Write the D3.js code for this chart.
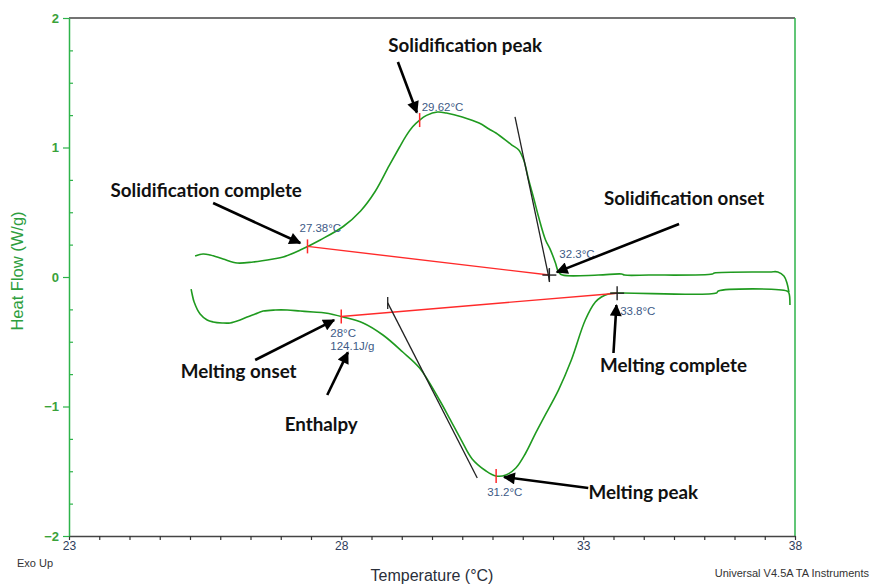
<!DOCTYPE html>
<html>
<head>
<meta charset="utf-8">
<script src="https://cdn.jsdelivr.net/npm/d3@7"></script>
<style>
  body { margin: 0; background: #fff; }
  svg { display: block; }
</style>
</head>
<body>
<svg id="chart" width="872" height="584"></svg>
<script>
// ---- Axis labelling -------------------------------------------------------
const xLabelValues = [23, 28, 33, 38];      // labelled temperatures
const xDivisions = [9, 8, 7];               // minor divisions between labels
const yTickValues = [-2, -1, 0, 1, 2];
const yMinorStep = 0.25;

// ---- Cooling scan (exotherm up): temperature °C / heat flow W/g ------------
const coolingTemp = [25.316, 25.463, 25.592, 25.831, 26.088, 26.382, 26.750, 26.934, 27.246, 27.614,
  28.041, 28.400, 28.700, 28.990, 29.200, 29.340, 29.475, 29.620, 29.762, 29.988, 30.172, 30.500,
  30.848, 31.053, 31.197, 31.525, 31.668, 31.770, 31.873, 31.975, 32.078, 32.221, 32.324, 32.426,
  32.488, 32.570, 33.357, 33.905, 33.976, 34.548, 36.048, 36.095, 37.405, 37.595, 37.738, 37.810,
  37.857];
const coolingFlow = [0.162, 0.178, 0.170, 0.139, 0.108, 0.116, 0.139, 0.154, 0.208, 0.286,
  0.390, 0.510, 0.660, 0.860, 1.000, 1.090, 1.160, 1.212, 1.248, 1.274, 1.266, 1.236,
  1.189, 1.143, 1.112, 1.019, 0.981, 0.903, 0.749, 0.610, 0.463, 0.286, 0.208, 0.108,
  0.039, 0.015, 0.015, 0.023, 0.015, 0.015, 0.023, 0.031, 0.039, 0.039, 0.008, -0.046,
  -0.116];

// ---- Heating scan ----------------------------------------------------------
const heatingTemp = [25.243, 25.261, 25.298, 25.408, 25.537, 25.647, 25.812, 25.960, 26.143, 26.272,
  26.419, 26.566, 26.787, 27.007, 27.246, 27.485, 27.706, 28.041, 28.451, 28.861, 29.270, 29.619,
  30.029, 30.234, 30.480, 30.705, 30.992, 31.197, 31.402, 31.607, 31.811, 32.016, 32.180, 32.488,
  32.754, 33.048, 33.286, 33.429, 33.595, 33.833, 36.143, 36.190, 37.810, 37.857, 37.881];
const heatingFlow = [-0.093, -0.131, -0.193, -0.286, -0.332, -0.347, -0.355, -0.355, -0.332, -0.309,
  -0.286, -0.263, -0.255, -0.255, -0.263, -0.270, -0.278, -0.309, -0.355, -0.448, -0.579, -0.703,
  -0.950, -1.089, -1.259, -1.405, -1.498, -1.537, -1.529, -1.475, -1.359, -1.205, -1.089, -0.873,
  -0.641, -0.332, -0.193, -0.154, -0.131, -0.124, -0.124, -0.108, -0.108, -0.124, -0.216];

// ---- Analysis results ------------------------------------------------------
const markerScan = ["cooling", "cooling", "cooling", "heating", "heating", "heating"];
const markerTemp = [27.38, 29.62, 32.3, 28, 31.2, 33.8];
const markerKind = ["tick", "tick", "cross", "tick", "tick", "cross"];
const coolingOnsetFlow = 0.015;             // baseline level at the cooling onset
const meltingEnthalpy = 124.1;              // J/g

// Tangent lines used for the onset constructions [T0, HF0, T1, HF1]
const coolingTangent = [31.59, 1.236, 32.30, -0.023];
const heatingTangent = [28.96, -0.200, 30.81, -1.552];

// Call-outs: text, text anchor (T, HF), arrow tail (T, HF), target marker
const calloutText = ["Solidification peak", "Solidification complete", "Solidification onset",
  "Melting onset", "Enthalpy", "Melting peak", "Melting complete"];
const calloutAnchorT = [30.56, 25.52, 35.38, 26.116, 27.632, 34.417, 35.131];
const calloutAnchorHF = [1.737, 0.618, 0.556, -0.780, -1.189, -1.714, -0.734];
const calloutTailT = [29.17, 25.647, 35.262, 26.419, 27.743, 33.119, 33.714];
const calloutTailHF = [1.660, 0.571, 0.409, -0.641, -0.911, -1.629, -0.587];
const calloutTarget = [1, 0, 2, 3, "enthalpy", 4, 5];

// ---- Layout ----------------------------------------------------------------
const W = 872, H = 584;
const margin = { top: 18, right: 77, bottom: 48, left: 69 };
const iw = W - margin.left - margin.right;
const ih = H - margin.top - margin.bottom;

const green = "#1f9a1f";
const axisGreen = "#2db34a";
const red = "#ff2a2a";
const valueColor = "#3d5a86";
const sans = "Liberation Sans, Arial, sans-serif";

const svg = d3.select("#chart");
const g = svg.append("g").attr("transform", `translate(${margin.left},${margin.top})`);

// Temperature scale: labelled temperatures fall on the divisions of the axis
const totalDiv = d3.sum(xDivisions);
const cum = [0, ...d3.cumsum(xDivisions)];
const x = d3.scaleLinear()
  .domain(xLabelValues)
  .range(cum.map(c => c / totalDiv * iw));
const y = d3.scaleLinear().domain([-2, 2]).range([ih, 0]);

const xTickValues = [];
xDivisions.forEach((n, i) => {
  const lo = xLabelValues[i], hi = xLabelValues[i + 1];
  for (let k = (i === 0 ? 0 : 1); k <= n; k++) xTickValues.push(lo + k * (hi - lo) / n);
});
const yMinor = d3.range(-2, 2 + 1e-9, yMinorStep).filter(v => Math.abs(v - Math.round(v)) > 1e-6);

// ---- Frame and axes ----------------------------------------------------------
g.append("line").attr("x1", 0).attr("x2", iw).attr("y1", 0).attr("y2", 0)
  .attr("stroke", "#444").attr("stroke-width", 1.5);
g.append("line").attr("x1", iw).attr("x2", iw).attr("y1", 0).attr("y2", ih)
  .attr("stroke", axisGreen).attr("stroke-width", 1.5);

const xAxis = g.append("g").attr("transform", `translate(0,${ih})`)
  .call(d3.axisBottom(x).tickValues(xTickValues).tickSize(4).tickSizeOuter(0)
    .tickFormat(d => xLabelValues.some(v => Math.abs(v - d) < 1e-6) ? d3.format("d")(d) : ""));
xAxis.select(".domain").attr("stroke", "#444").attr("stroke-width", 1.5);
xAxis.selectAll(".tick line").attr("stroke", "#333").attr("stroke-width", 1.2);
xAxis.selectAll(".tick text").attr("fill", "#2e3d5c").attr("font-family", sans)
  .attr("font-size", 12).attr("dy", "0.55em");

const yAxis = g.append("g")
  .call(d3.axisLeft(y).tickValues(yTickValues).tickSize(6).tickSizeOuter(0).tickFormat(d3.format("d")));
yAxis.select(".domain").attr("stroke", axisGreen).attr("stroke-width", 1.5);
yAxis.selectAll(".tick line").attr("stroke", axisGreen).attr("stroke-width", 1.2);
yAxis.selectAll(".tick text").attr("fill", "#3aa23a").attr("font-family", sans)
  .attr("font-size", 13).attr("font-weight", "bold").attr("dx", "-1");

const yMinorAxis = g.append("g")
  .call(d3.axisRight(y).tickValues(yMinor).tickSize(4).tickFormat(""));
yMinorAxis.select(".domain").remove();
yMinorAxis.selectAll(".tick line").attr("stroke", axisGreen).attr("stroke-width", 1.2);

// Axis titles and footers
svg.append("text").attr("x", margin.left + iw / 2).attr("y", 581)
  .attr("text-anchor", "middle").attr("font-family", sans)
  .attr("font-size", 16).attr("fill", "#2a2f3a").text("Temperature (°C)");
svg.append("text").attr("transform", "translate(23,271) rotate(-90)")
  .attr("text-anchor", "middle").attr("font-family", sans)
  .attr("font-size", 16.5).attr("fill", "#2e9e3e").text("Heat Flow (W/g)");
svg.append("text").attr("x", 17).attr("y", 567).attr("font-family", sans)
  .attr("font-size", 11).attr("fill", "#333").text("Exo Up");
svg.append("text").attr("x", 869).attr("y", 577).attr("text-anchor", "end")
  .attr("font-family", sans)
  .attr("font-size", 11).attr("fill", "#333").text("Universal V4.5A TA Instruments");

// ---- Curves ------------------------------------------------------------------
const scans = {
  cooling: coolingTemp.map((t, i) => [t, coolingFlow[i]]),
  heating: heatingTemp.map((t, i) => [t, heatingFlow[i]])
};
const line = d3.line().x(d => x(d[0])).y(d => y(d[1])).curve(d3.curveCatmullRom.alpha(0.5));
Object.values(scans).forEach(pts => {
  g.append("path").datum(pts).attr("d", line)
    .attr("fill", "none").attr("stroke", green).attr("stroke-width", 1.6);
});

// Heat flow on a scan at a given temperature
const flowAt = {
  cooling: d3.scaleLinear().domain(coolingTemp).range(coolingFlow),
  heating: d3.scaleLinear().domain(heatingTemp).range(heatingFlow)
};
const markers = markerTemp.map((t, i) => ({
  t,
  hf: (markerScan[i] === "cooling" && markerKind[i] === "cross") ? coolingOnsetFlow : flowAt[markerScan[i]](t),
  kind: markerKind[i],
  scan: markerScan[i]
}));

// Integration baselines (red) between start and end markers of each scan
[[0, 2], [3, 5]].forEach(([a, b]) => {
  g.append("line")
    .attr("x1", x(markers[a].t)).attr("y1", y(markers[a].hf))
    .attr("x2", x(markers[b].t)).attr("y2", y(markers[b].hf))
    .attr("stroke", red).attr("stroke-width", 1.4);
});

// Tangent constructions
[coolingTangent, heatingTangent].forEach(tg => {
  g.append("line")
    .attr("x1", x(tg[0])).attr("y1", y(tg[1])).attr("x2", x(tg[2])).attr("y2", y(tg[3]))
    .attr("stroke", "#222").attr("stroke-width", 1.3);
});
// short tick where each tangent meets its baseline
[[coolingTangent[2], coolingOnsetFlow], [heatingTangent[0], heatingTangent[1]]].forEach(([t, hf]) => {
  g.append("line").attr("x1", x(t)).attr("x2", x(t)).attr("y1", y(hf) - 6).attr("y2", y(hf) + 6)
    .attr("stroke", "#222").attr("stroke-width", 1.3);
});

// Markers
markers.forEach(m => {
  const mx = x(m.t), my = y(m.hf);
  if (m.kind === "tick") {
    g.append("line").attr("x1", mx).attr("x2", mx).attr("y1", my - 7).attr("y2", my + 7)
      .attr("stroke", red).attr("stroke-width", 1.5);
  } else {
    g.append("line").attr("x1", mx).attr("x2", mx).attr("y1", my - 7).attr("y2", my + 7)
      .attr("stroke", "#222").attr("stroke-width", 1.4);
    g.append("line").attr("x1", mx - 7).attr("x2", mx + 7).attr("y1", my).attr("y2", my)
      .attr("stroke", "#222").attr("stroke-width", 1.4);
  }
});

// Value labels for markers: offsets relative to each marker
const labelDx = [-8, 2, 10, -11, -9, 3];
const labelDy = [-14, -9, -17, 20, 20, 22];
markers.forEach((m, i) => {
  g.append("text").attr("x", x(m.t) + labelDx[i]).attr("y", y(m.hf) + labelDy[i])
    .attr("font-family", sans).attr("font-size", 11.5).attr("fill", valueColor)
    .text(`${m.t}°C`);
});
const enthalpyLabel = g.append("text")
  .attr("x", x(markers[3].t) + labelDx[3]).attr("y", y(markers[3].hf) + labelDy[3] + 13)
  .attr("font-family", sans).attr("font-size", 11.5).attr("fill", valueColor)
  .text(`${meltingEnthalpy}J/g`);
const eb = enthalpyLabel.node().getBBox();

// ---- Call-outs ----------------------------------------------------------------
svg.append("defs").append("marker")
  .attr("id", "head").attr("viewBox", "0 0 10 10").attr("refX", 9).attr("refY", 5)
  .attr("markerUnits", "userSpaceOnUse").attr("markerWidth", 15).attr("markerHeight", 12)
  .attr("orient", "auto")
  .append("path").attr("d", "M0,0 L10,5 L0,10 Z").attr("fill", "#000");

calloutText.forEach((txt, i) => {
  g.append("text").attr("x", x(calloutAnchorT[i])).attr("y", y(calloutAnchorHF[i]))
    .attr("text-anchor", "middle").attr("font-family", "Lato, 'Open Sans', sans-serif")
    .attr("font-weight", 700).attr("font-size", 18.8).attr("fill", "#111").text(txt);
  const tx = x(calloutTailT[i]), ty = y(calloutTailHF[i]);
  let hx, hy, gap;
  if (calloutTarget[i] === "enthalpy") {
    hx = eb.x + eb.width / 2 - 4; hy = eb.y + eb.height; gap = 1;
  } else {
    const m = markers[calloutTarget[i]];
    hx = x(m.t); hy = y(m.hf); gap = calloutTarget[i] === 5 ? 12 : 8;
  }
  const dx = hx - tx, dy = hy - ty, len = Math.hypot(dx, dy);
  g.append("line").attr("x1", tx).attr("y1", ty)
    .attr("x2", hx - dx / len * gap).attr("y2", hy - dy / len * gap)
    .attr("stroke", "#000").attr("stroke-width", 2.6).attr("marker-end", "url(#head)");
});
</script>
</body>
</html>
